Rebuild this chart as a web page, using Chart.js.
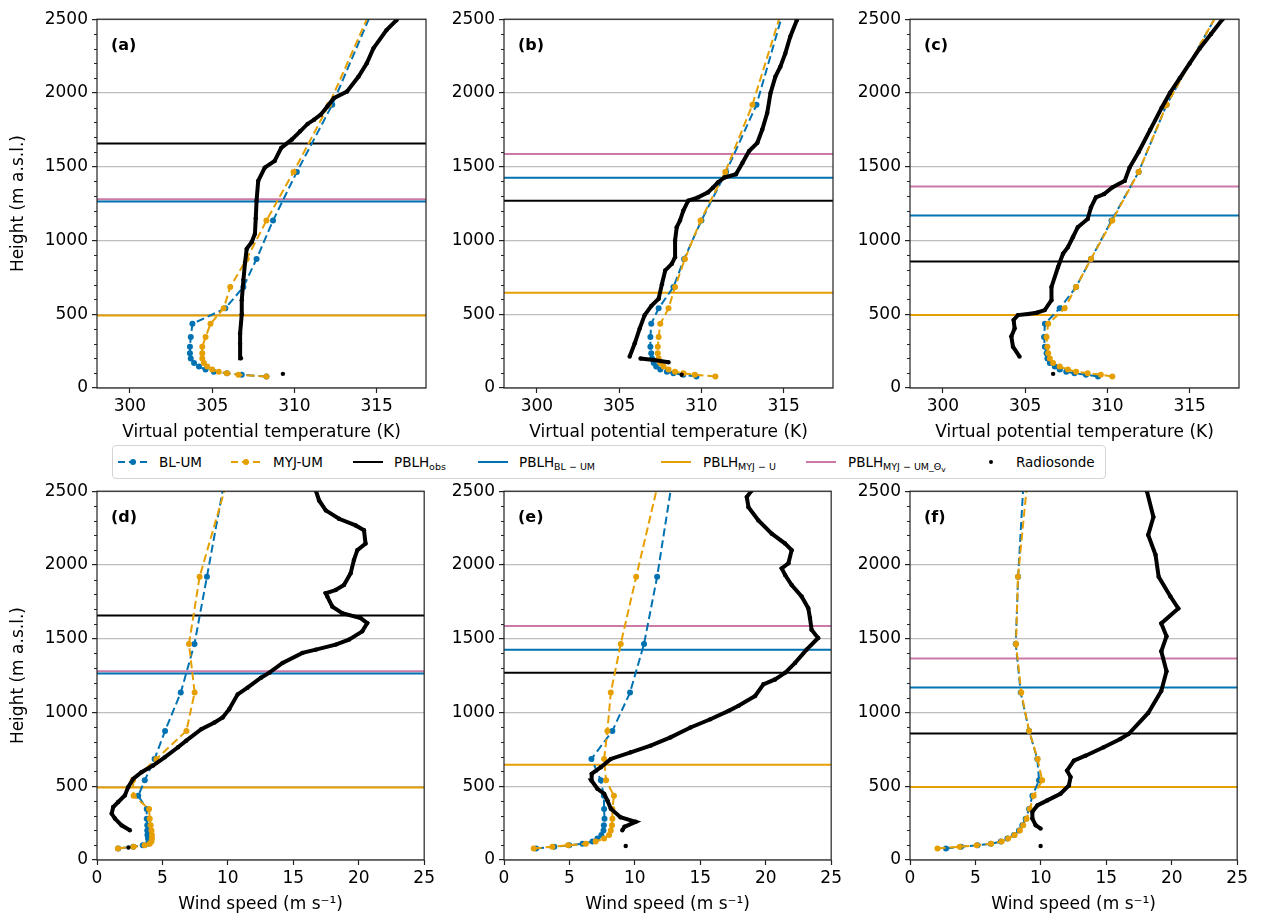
<!DOCTYPE html>
<html>
<head>
<meta charset="utf-8">
<script src="https://cdn.jsdelivr.net/npm/chart.js@4"></script>
<style>
body { margin: 0; background: #fff; width: 1262px; height: 920px; position: relative; overflow: hidden; font-family: 'DejaVu Sans', sans-serif; }
canvas { position: absolute; }
#legend { position: absolute; left: 112px; top: 445px; width: 992px; height: 32px; border: 1px solid #d4d4d4; border-radius: 4px; background: #fff; font-size: 13.5px; color: #000; z-index: 2; }
#legend .it { position: absolute; top: 11px; line-height: 0; }
#legend .tx { position: absolute; top: 7px; line-height: 18px; white-space: nowrap; }
#legend sub { font-size: 9.5px; vertical-align: baseline; position: relative; top: 3px; }
#legend sub sub { font-size: 7.5px; top: 2px; }
</style>
</head>
<body>
<canvas id="pa" width="436" height="438" style="left:2px;top:5px"></canvas>
<canvas id="pb" width="436" height="438" style="left:409px;top:5px"></canvas>
<canvas id="pc" width="436" height="438" style="left:815px;top:5px"></canvas>
<canvas id="pd" width="436" height="438" style="left:2px;top:477px"></canvas>
<canvas id="pe" width="436" height="438" style="left:409px;top:477px"></canvas>
<canvas id="pf" width="436" height="438" style="left:815px;top:477px"></canvas>

<div id="legend">
  <div class="it" style="left:5px"><svg width="30" height="10"><line x1="0" y1="5" x2="30" y2="5" stroke="#0072B2" stroke-width="2" stroke-dasharray="7,4"/><circle cx="15" cy="5" r="3" fill="#0072B2"/></svg></div>
  <span class="tx" style="left:46px">BL-UM</span>
  <div class="it" style="left:118px"><svg width="30" height="10"><line x1="0" y1="5" x2="30" y2="5" stroke="#E69F00" stroke-width="2" stroke-dasharray="7,4"/><circle cx="15" cy="5" r="3" fill="#E69F00"/></svg></div>
  <span class="tx" style="left:160px">MYJ-UM</span>
  <div class="it" style="left:240px"><svg width="30" height="10"><line x1="0" y1="5" x2="30" y2="5" stroke="#000" stroke-width="2"/></svg></div>
  <span class="tx" style="left:281px">PBLH<sub>obs</sub></span>
  <div class="it" style="left:365px"><svg width="30" height="10"><line x1="0" y1="5" x2="30" y2="5" stroke="#0072B2" stroke-width="2"/></svg></div>
  <span class="tx" style="left:406px">PBLH<sub>BL − UM</sub></span>
  <div class="it" style="left:548px"><svg width="30" height="10"><line x1="0" y1="5" x2="30" y2="5" stroke="#E69F00" stroke-width="2"/></svg></div>
  <span class="tx" style="left:590px">PBLH<sub>MYJ − U</sub></span>
  <div class="it" style="left:693px"><svg width="30" height="10"><line x1="0" y1="5" x2="30" y2="5" stroke="#CC79A7" stroke-width="2"/></svg></div>
  <span class="tx" style="left:735px">PBLH<sub>MYJ − UM_Θ<sub>v</sub></sub></span>
  <div class="it" style="left:863px"><svg width="30" height="10"><circle cx="15" cy="5" r="2" fill="#000"/></svg></div>
  <span class="tx" style="left:903px">Radiosonde</span>
</div>

<script>
// model levels (m a.s.l.)
var modelHeights = [78, 90, 100, 110, 125, 145, 170, 200, 235, 280, 345, 435, 540, 685, 875, 1135, 1465, 1920, 2600];

// virtual potential temperature (K) at model levels
var thetaBL_a = [308.3, 306.8, 305.9, 305.1, 304.6, 304.2, 303.9, 303.7, 303.65, 303.65, 303.7, 303.8, 305.8, 306.9, 307.7, 308.7, 310.15, 312.3, 314.9];
var thetaMYJ_a = [308.3, 306.6, 305.9, 305.4, 305.0, 304.7, 304.5, 304.4, 304.4, 304.4, 304.6, 304.9, 305.7, 306.1, 307.1, 308.3, 309.95, 312.1, 314.8];
var thetaBL_b = [309.7, 308.9, 308.3, 307.9, 307.5, 307.25, 307.1, 307.0, 306.95, 306.9, 306.9, 306.95, 307.4, 308.3, 308.95, 310.0, 311.5, 313.35, 315.1];
var thetaMYJ_b = [310.85, 309.6, 308.9, 308.4, 308.0, 307.7, 307.5, 307.4, 307.35, 307.35, 307.4, 307.5, 308.0, 308.4, 309.0, 309.95, 311.45, 313.1, 315.0];
var thetaBL_c = [309.43, 308.7, 308.0, 307.5, 307.1, 306.8, 306.5, 306.35, 306.3, 306.2, 306.15, 306.2, 307.1, 308.1, 309.0, 310.25, 311.9, 313.6, 317.0];
var thetaMYJ_c = [310.3, 309.6, 308.8, 308.1, 307.6, 307.1, 306.7, 306.5, 306.4, 306.35, 306.3, 306.4, 307.4, 308.1, 309.0, 310.3, 311.9, 313.6, 317.0];

// wind speed (m/s) at model levels
var windBL_d = [1.62, 2.77, 3.5, 3.9, 3.95, 3.9, 3.85, 3.84, 3.84, 3.8, 3.8, 3.15, 3.65, 4.4, 5.2, 6.4, 7.45, 8.4, 9.8];
var windMYJ_d = [1.6, 2.8, 3.65, 4.03, 4.16, 4.2, 4.2, 4.16, 4.1, 4.03, 3.98, 2.8, 2.75, 4.54, 6.83, 7.46, 7.03, 7.84, 10.05];
var windBL_e = [2.45, 3.84, 4.98, 6.0, 6.76, 7.14, 7.44, 7.6, 7.63, 7.68, 7.65, 7.63, 7.4, 6.68, 8.28, 9.63, 10.7, 11.7, 12.9];
var windMYJ_e = [2.27, 3.7, 4.9, 6.25, 7.0, 7.65, 8.03, 8.16, 8.25, 8.28, 8.28, 8.4, 7.8, 7.65, 7.9, 8.16, 8.92, 10.1, 11.9];
var windBL_f = [2.75, 3.9, 5.16, 6.18, 6.94, 7.44, 7.95, 8.33, 8.58, 8.84, 9.1, 9.35, 9.86, 9.73, 9.1, 8.46, 8.08, 8.26, 8.7];
var windMYJ_f = [2.1, 3.8, 5.1, 6.2, 7.0, 7.5, 8.0, 8.4, 8.65, 8.9, 9.15, 9.45, 10.1, 9.75, 9.1, 8.5, 8.1, 8.25, 9.0];

// radiosonde profiles (null = gap in the sounding)
var sondeH_a = [96, null, 202, 300, 370, 500, 595, 733, 850, 943, 988, 1045, 1150, 1270, 1404, 1494, 1539, 1628, 1685, 1740, 1790, 1819, 1853, 1909, 1965, 2010, 2111, 2201, 2302, 2426, 2493, 2560];
var sondeTheta_a = [309.3, null, 306.75, 306.7, 306.7, 306.8, 306.8, 306.9, 307.0, 307.1, 307.4, 307.6, 307.65, 307.7, 307.8, 308.2, 308.8, 309.2, 309.85, 310.35, 310.8, 311.2, 311.6, 312.0, 312.4, 313.2, 313.9, 314.4, 314.8, 315.6, 316.2, 316.6];
var sondeH_b = [90, null, 200, 190, 175, null, 213, 303, 404, 494, 557, 605, 704, 797, 842, 887, 1000, 1090, 1135, 1202, 1270, 1292, 1326, 1358, 1393, 1427, 1449, 1527, 1606, 1662, 1752, 1864, 1999, 2111, 2178, 2268, 2381, 2493, 2550];
var sondeTheta_b = [308.8, null, 306.3, 307.1, 308.0, null, 305.64, 305.95, 306.25, 306.55, 306.96, 307.4, 307.6, 307.8, 308.2, 308.4, 308.4, 308.5, 308.7, 308.9, 309.2, 309.8, 310.4, 310.7, 311.0, 311.4, 312.1, 312.5, 312.9, 313.4, 313.7, 314.0, 314.2, 314.5, 314.8, 315.1, 315.4, 315.8, 316.0];
var sondeH_c = [96, null, 213, 280, 350, 404, 461, 494, 501, 510, 528, 595, 685, 820, 910, 955, 1022, 1090, 1146, 1224, 1292, 1315, 1360, 1404, 1494, 1600, 1750, 1900, 2000, 2100, 2200, 2300, 2400, 2500, 2560];
var sondeTheta_c = [306.7, null, 304.66, 304.26, 304.16, 304.36, 304.3, 304.56, 305.17, 305.7, 306.19, 306.6, 306.6, 307.0, 307.3, 307.6, 307.9, 308.2, 308.8, 309.0, 309.3, 309.8, 310.3, 311.05, 311.35, 311.9, 312.6, 313.3, 313.8, 314.4, 315.0, 315.6, 316.3, 317.0, 317.3];
var sondeH_d = [85, null, 202, 235, 281, 315, 359, 393, 438, 494, 550, 595, 640, 696, 764, 809, 887, 932, 966, 1022, 1123, 1168, 1236, 1270, 1336, 1404, 1426, 1460, 1494, 1550, 1606, 1640, 1673, 1718, 1786, 1808, 1830, 1864, 1943, 2033, 2100, 2145, 2235, 2268, 2313, 2370, 2437, 2505, 2560];
var sondeWind_d = [2.4, null, 2.51, 1.88, 1.37, 1.12, 1.24, 1.62, 2.13, 2.38, 2.76, 3.4, 4.28, 5.17, 6.19, 6.82, 7.97, 8.98, 9.6, 10.1, 10.75, 11.5, 12.53, 13.17, 14.18, 15.7, 16.72, 18.24, 19.25, 20.27, 20.65, 20.14, 18.74, 17.98, 17.6, 17.48, 18.24, 18.87, 19.38, 19.63, 19.89, 20.52, 20.4, 19.76, 18.49, 17.48, 16.97, 16.72, 16.6];
var sondeH_e = [95, null, 202, 225, 259, 290, 348, 404, 449, 483, 539, 584, 629, 685, 730, 775, 831, 898, 954, 1011, 1045, 1112, 1191, 1224, 1269, 1336, 1426, 1505, 1561, 1640, 1707, 1786, 1864, 1932, 1977, 2011, 2100, 2145, 2212, 2302, 2392, 2460, 2505, 2560];
var sondeWind_e = [9.3, null, 9.04, 9.2, 10.06, 8.9, 8.16, 7.9, 7.65, 7.14, 6.68, 6.7, 7.4, 8.16, 9.68, 11.2, 12.72, 14.25, 15.77, 17.16, 17.92, 19.19, 19.82, 20.71, 21.48, 22.24, 23.12, 24.0, 23.5, 23.38, 23.25, 22.74, 21.98, 21.48, 21.22, 21.73, 21.98, 21.48, 20.46, 19.44, 18.68, 18.55, 18.93, 19.1];
var sondeH_f = [95, null, 213, 236, 281, 326, 370, 404, 449, 505, 562, 606, 673, 707, 764, 820, 854, 997, 1146, 1280, 1415, 1516, 1604, 1705, 1786, 1920, 2069, 2203, 2325, 2500, 2560];
var sondeWind_f = [9.98, null, 9.98, 9.6, 9.35, 9.35, 9.73, 10.49, 11.5, 12.14, 12.27, 12.0, 12.52, 13.41, 14.8, 16.07, 16.7, 18.2, 19.2, 19.6, 19.2, 19.6, 19.2, 20.5, 19.9, 19.0, 18.76, 18.2, 18.6, 18.1, 18.0];

// boundary layer heights (m) for the three cases (a/d, b/e, c/f)
var pblhObs = [1658, 1270, 857];
var pblhBL = [1265, 1425, 1170];
var pblhMYJ = [492, 645, 495];
var pblhMYJTheta = [1280, 1587, 1366];

// axes
var heightRange = [0, 2500];
var heightTicks = [0, 500, 1000, 1500, 2000, 2500];
var heightMinorStep = 100;
var thetaRange = [298, 318];
var thetaTicks = [300, 305, 310, 315];
var windRange = [0, 25];
var windTicks = [0, 5, 10, 15, 20, 25];

var BLUE = '#0072B2', ORANGE = '#E69F00', PINK = '#CC79A7', BLACK = '#000000';
var FONT = "'DejaVu Sans', sans-serif";

function profile(xs, hs) {
    return xs.map(function (v, i) { return {x: v, y: hs[i]}; });
}

function hline(h, range) {
    return [{x: range[0], y: h}, {x: range[1], y: h}];
}

// box around the axes, minor y ticks and the panel letter
var panelFrame = {
    id: 'panelFrame',
    afterDraw: function (chart, args, opts) {
        var ctx = chart.ctx, a = chart.chartArea, y = chart.scales.y;
        ctx.save();
        ctx.strokeStyle = '#222';
        ctx.lineWidth = 1.2;
        ctx.beginPath();
        for (var v = y.min; v <= y.max; v += heightMinorStep) {
            if (heightTicks.indexOf(v) >= 0) continue;
            var py = Math.round(y.getPixelForValue(v)) + 0.5;
            ctx.moveTo(a.left - 3, py);
            ctx.lineTo(a.left, py);
        }
        ctx.stroke();
        ctx.strokeRect(a.left, a.top, a.right - a.left, a.bottom - a.top);
        ctx.fillStyle = '#000';
        ctx.font = 'bold 16px ' + FONT;
        ctx.textBaseline = 'middle';
        ctx.fillText(opts.label, a.left + 14, a.top + 27);
        ctx.restore();
    }
};

function plainTick(v) { return String(v); }

function makePanel(id, p) {
    var c = p.caseIdx, xr = p.xRange;
    var datasets = [
        {label: 'Radiosonde', data: profile(p.sondeX, p.sondeH), borderColor: BLACK, backgroundColor: BLACK,
         borderWidth: 4, pointRadius: 2.2, pointBorderWidth: 0, showLine: true, spanGaps: false, order: 1},
        {label: 'MYJ-UM', data: profile(p.myj, modelHeights), borderColor: ORANGE, backgroundColor: ORANGE,
         borderDash: [8, 4], borderWidth: 2, pointRadius: 3, pointBorderWidth: 0, showLine: true, order: 2},
        {label: 'BL-UM', data: profile(p.bl, modelHeights), borderColor: BLUE, backgroundColor: BLUE,
         borderDash: [8, 4], borderWidth: 2, pointRadius: 3, pointBorderWidth: 0, showLine: true, order: 3},
        {label: 'PBLH obs', data: hline(pblhObs[c], xr), borderColor: BLACK, borderWidth: 2, pointRadius: 0, showLine: true, order: 4},
        {label: 'PBLH BL-UM', data: hline(pblhBL[c], xr), borderColor: BLUE, borderWidth: 2, pointRadius: 0, showLine: true, order: 5},
        {label: 'PBLH MYJ-U', data: hline(pblhMYJ[c], xr), borderColor: ORANGE, borderWidth: 2, pointRadius: 0, showLine: true, order: 6},
        {label: 'PBLH MYJ-UM theta', data: hline(pblhMYJTheta[c], xr), borderColor: PINK, borderWidth: 2, pointRadius: 0, showLine: true, order: 7}
    ];

    return new Chart(document.getElementById(id), {
        type: 'scatter',
        data: {datasets: datasets},
        options: {
            responsive: false,
            animation: false,
            devicePixelRatio: 1,
            layout: {padding: {top: 12, right: 12, left: 0, bottom: 0}},
            plugins: {
                legend: {display: false},
                tooltip: {enabled: false},
                panelFrame: {label: p.label}
            },
            scales: {
                x: {
                    type: 'linear',
                    min: xr[0],
                    max: xr[1],
                    afterBuildTicks: function (s) { s.ticks = p.xTicks.map(function (v) { return {value: v}; }); },
                    afterFit: function (s) { s.height = 55; },
                    grid: {drawOnChartArea: false, tickLength: 5, tickColor: '#222', tickWidth: 1.2},
                    border: {display: false},
                    ticks: {font: {size: 17, family: FONT}, color: '#000', padding: 3, maxRotation: 0, autoSkip: false, callback: plainTick},
                    title: {display: true, text: p.xTitle, font: {size: 17, family: FONT}, color: '#000', padding: 0}
                },
                y: {
                    type: 'linear',
                    min: heightRange[0],
                    max: heightRange[1],
                    afterBuildTicks: function (s) { s.ticks = heightTicks.map(function (v) { return {value: v}; }); },
                    afterFit: function (s) { s.width = 95; },
                    grid: {color: '#bdbdbd', lineWidth: 1.2, tickLength: 5, tickColor: '#222', tickWidth: 1.2},
                    border: {display: false},
                    ticks: {font: {size: 17, family: FONT}, color: '#000', padding: 4, callback: plainTick},
                    title: {display: p.yTitle, text: 'Height (m a.s.l.)', font: {size: 17, family: FONT}, color: '#000', padding: {top: 6, bottom: 0}}
                }
            }
        },
        plugins: [panelFrame]
    });
}

var thetaTitle = 'Virtual potential temperature (K)';
var windTitle = 'Wind speed (m s\u207B\u00B9)';

makePanel('pa', {label: '(a)', caseIdx: 0, xRange: thetaRange, xTicks: thetaTicks, xTitle: thetaTitle, yTitle: true,
    bl: thetaBL_a, myj: thetaMYJ_a, sondeX: sondeTheta_a, sondeH: sondeH_a});
makePanel('pb', {label: '(b)', caseIdx: 1, xRange: thetaRange, xTicks: thetaTicks, xTitle: thetaTitle, yTitle: false,
    bl: thetaBL_b, myj: thetaMYJ_b, sondeX: sondeTheta_b, sondeH: sondeH_b});
makePanel('pc', {label: '(c)', caseIdx: 2, xRange: thetaRange, xTicks: thetaTicks, xTitle: thetaTitle, yTitle: false,
    bl: thetaBL_c, myj: thetaMYJ_c, sondeX: sondeTheta_c, sondeH: sondeH_c});
makePanel('pd', {label: '(d)', caseIdx: 0, xRange: windRange, xTicks: windTicks, xTitle: windTitle, yTitle: true,
    bl: windBL_d, myj: windMYJ_d, sondeX: sondeWind_d, sondeH: sondeH_d});
makePanel('pe', {label: '(e)', caseIdx: 1, xRange: windRange, xTicks: windTicks, xTitle: windTitle, yTitle: false,
    bl: windBL_e, myj: windMYJ_e, sondeX: sondeWind_e, sondeH: sondeH_e});
makePanel('pf', {label: '(f)', caseIdx: 2, xRange: windRange, xTicks: windTicks, xTitle: windTitle, yTitle: false,
    bl: windBL_f, myj: windMYJ_f, sondeX: sondeWind_f, sondeH: sondeH_f});
</script>
</body>
</html>
